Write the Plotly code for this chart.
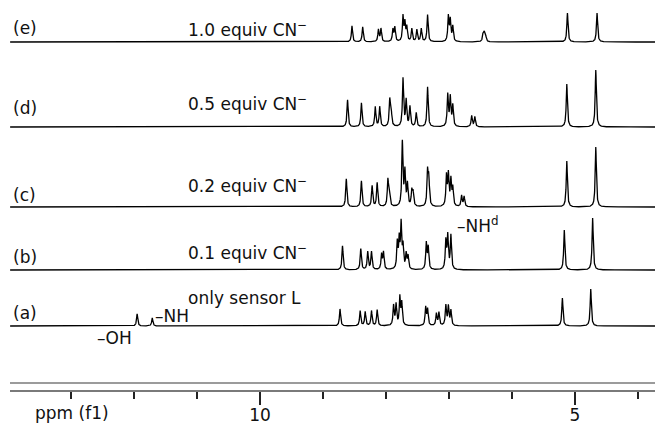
import numpy as np
import plotly.graph_objects as go

# ---------------- data ----------------
tick_vals = [10, 5]
tick_text = ["10", "5"]

trace_tags = ["(a)", "(b)", "(c)", "(d)", "(e)"]
trace_names = ["only sensor L", "0.1 equiv CN<sup>−</sup>", "0.2 equiv CN<sup>−</sup>",
               "0.5 equiv CN<sup>−</sup>", "1.0 equiv CN<sup>−</sup>"]

# peak positions (ppm) and apparent heights (arbitrary units)
a_ppm = [11.95, 11.71, 8.73, 8.41, 8.33, 8.23, 8.14, 7.88, 7.84, 7.78, 7.75, 7.37, 7.34,
         7.20, 7.16, 7.05, 7.01, 6.97, 5.20, 4.75]
a_int = [12, 8, 17, 15, 14, 15, 16, 20, 21, 28, 22, 18, 16, 12, 13, 20, 19, 15, 28, 37]

b_ppm = [8.69, 8.40, 8.29, 8.23, 8.07, 8.04, 7.82, 7.79, 7.76, 7.73, 7.68, 7.65, 7.36, 7.33,
         7.05, 7.02, 6.97, 5.17, 4.72]
b_int = [24, 21, 18, 18, 15, 17, 26, 28, 44, 22, 15, 13, 26, 22, 28, 33, 34, 40, 52]

c_ppm = [8.63, 8.39, 8.22, 8.14, 7.97, 7.95, 7.74, 7.70, 7.66, 7.59, 7.57, 7.34, 7.32,
         7.04, 7.01, 6.97, 6.94, 6.80, 6.76, 5.13, 4.67]
c_int = [28, 26, 21, 24, 25, 16, 64, 34, 22, 15, 13, 34, 26, 30, 31, 26, 18, 11, 10, 46, 60]

d_ppm = [8.61, 8.39, 8.17, 8.10, 7.94, 7.92, 7.73, 7.68, 7.62, 7.52, 7.34, 7.02, 6.98,
         6.94, 6.64, 6.59, 5.13, 4.67]
d_int = [27, 24, 20, 20, 25, 18, 48, 26, 20, 14, 40, 32, 29, 21, 11, 10, 43, 57]

e_ppm = [8.54, 8.37, 8.12, 8.08, 7.89, 7.86, 7.73, 7.70, 7.67, 7.59, 7.51, 7.44, 7.34,
         7.01, 6.98, 6.94, 6.46, 6.44, 6.42, 5.12, 4.65]
e_int = [16, 15, 12, 13, 12, 14, 25, 18, 14, 13, 12, 13, 27, 25, 21, 15, 7, 8, 6, 29, 29]

peak_sets = [(a_ppm, a_int), (b_ppm, b_int), (c_ppm, c_int), (d_ppm, d_int), (e_ppm, e_int)]

# ---------------- layout constants ----------------
W, H = 655, 426
ML, MR, MT, MB = 10, 0, 0, 36
PLOT_H = H - MT - MB            # 1 y unit == 1 px
X_LEFT, X_RIGHT = 13.968, 3.730
baselines = [64, 120, 183, 263, 348]   # stacking offsets of the spectra
HWHM = 0.011
FONT = "DejaVu Sans"
TXT = dict(family=FONT, size=17, color="#111111")

grid = np.arange(X_RIGHT, X_LEFT, 0.002)[::-1]


def spectrum(ppm, inten):
    y = np.zeros_like(grid)
    for p, h in zip(ppm, inten):
        y += h * HWHM ** 2 / ((grid - p) ** 2 + HWHM ** 2)
    return y


fig = go.Figure()
for (ppm, inten), base in zip(peak_sets, baselines):
    fig.add_trace(go.Scatter(x=grid, y=base + spectrum(ppm, inten), mode="lines",
                             line=dict(color="black", width=1.3), hoverinfo="skip",
                             showlegend=False))


def ypaper(py):
    return (PLOT_H - py) / PLOT_H


def xpaper(px):
    return (px - ML) / (W - ML - MR)


ann = []
tag_px = [313, 257, 195, 108, 28]
name_px = [298, 252, 185, 103, 29]
for tag, name, ty, ny in zip(trace_tags, trace_names, tag_px, name_px):
    ann.append(dict(text=tag, x=xpaper(11), y=ypaper(ty)))
    ann.append(dict(text=name, x=xpaper(186), y=ypaper(ny)))
ann.append(dict(text="–NH", x=xpaper(153), y=ypaper(316)))
ann.append(dict(text="–OH", x=xpaper(95), y=ypaper(338)))
ann.append(dict(text="–NH<sup>d</sup>", x=xpaper(455), y=ypaper(225)))
ann.append(dict(text="ppm (f1)", x=xpaper(33), y=ypaper(413)))
for a in ann:
    a.update(xref="paper", yref="paper", showarrow=False, xanchor="left",
             yanchor="middle", font=TXT)

fig.update_layout(
    width=W, height=H, margin=dict(l=ML, r=MR, t=MT, b=MB),
    paper_bgcolor="white", plot_bgcolor="white",
    annotations=ann,
    shapes=[dict(type="line", xref="paper", yref="y", x0=0, x1=1, y0=7, y1=7,
                 line=dict(color="#7a7a7a", width=1.5))],
    xaxis=dict(range=[X_LEFT, X_RIGHT], showgrid=False, zeroline=False,
               showline=True, linecolor="#7a7a7a", linewidth=1.5,
               tickmode="array", tickvals=tick_vals, ticktext=tick_text,
               ticks="outside", ticklen=13, tickwidth=1.5, tickcolor="#222",
               ticklabelstandoff=-4,
               tickfont=TXT,
               minor=dict(tickmode="linear", tick0=0, dtick=1, ticks="outside",
                          ticklen=7, tickwidth=1.5, tickcolor="#222", showgrid=False)),
    yaxis=dict(range=[0, PLOT_H], visible=False, showgrid=False, zeroline=False),
)

fig.write_html("out.html")
